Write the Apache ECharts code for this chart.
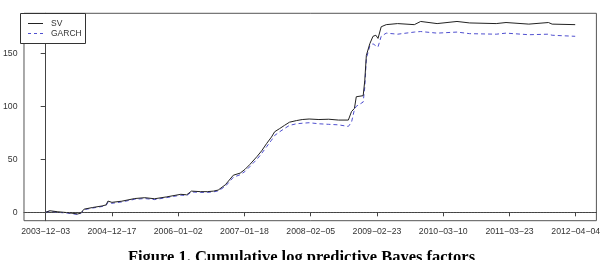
<!DOCTYPE html>
<html>
<head>
<meta charset="utf-8">
<script src="https://cdn.jsdelivr.net/npm/echarts@6/dist/echarts.min.js"></script>
<style>html,body{margin:0;padding:0;background:#fff;}#c{width:603px;height:260px;}</style>
</head>
<body>
<div id="c"></div>
<script>
// observation index (trading-day count from 2003-12-03)
var obsIndex = [0,15,46,83,120,131,145,176,213,228,235,250,287,336,374,411,455,510,532,550,584,610,633,651,678,708,734,752,770,797,815,834,852,864,883,901,920,946,968,994,1031,1068,1105,1142,1154,1165,1172,1198,1204,1210,1223,1235,1246,1254,1266,1285,1328,1391,1415,1477,1552,1600,1700,1737,1823,1897,1911,1998];
var svValues = [0,1.5,0.5,-0.3,-1.5,-1,3,4.5,6,7,10.6,9.4,10.5,13,13.8,12.8,14.5,17,16.5,20,19.5,19.5,20,21,26,35,37,40.5,45,52.5,58,65,71,76,79,82,85,86.5,87.5,88,87.5,87.8,87,87,95,98,109,110,124,148,159,166,167,164,175,177,178,177,180,178,180,178.6,178,179,177.5,179,177.5,177];
var garchValues = [0,1,0,-0.8,-2,-1.5,2.5,4,5.5,6.5,9.5,8.5,9.8,12.3,13,12,13.8,16.2,15.8,19.2,18.8,18.8,19.3,20.2,24.5,33,35.5,38.5,43,50,55.5,62,68,72.5,76,79,82,83.5,84,84.5,83.5,83,82.5,81,85,97,100,104,118,145,157,159,157,156,166,169,168,170,170.5,169,170,168.5,168,169,167.5,168,167,166];
var seriesNames = ['SV','GARCH'];
var tickIndex = [0,250,500,750,1000,1250,1500,1750,2000];
var tickLabels = ['2003\u221212\u221203','2004\u221212\u221217','2006\u221201\u221202','2007\u221201\u221218','2008\u221202\u221205','2009\u221202\u221223','2010\u221203\u221210','2011\u221203\u221223','2012\u221204\u221204'];
var yTicks = [0,50,100,150];

function pairs(xs, ys){ var out=[]; for(var i=0;i<xs.length;i++){ out.push([xs[i], ys[i]]); } return out; }

var chart = echarts.init(document.getElementById('c'), null, {renderer:'canvas'});
var axisColor = '#444';
var font = 'Liberation Sans, Arial, sans-serif';
var svColor = '#222';
var garchColor = '#5050d0';
chart.setOption({
  animation:false,
  backgroundColor:'#fff',
  grid:{left:20.5, right:1.5, top:13.3, bottom:39.3, show:true, borderColor:'#555', borderWidth:1, backgroundColor:'transparent'},
  xAxis:{
    type:'value', min:-81.8, max:2078,
    axisLine:{show:true, lineStyle:{color:axisColor, width:1}},
    axisTick:{show:true, length:4, lineStyle:{color:axisColor}, customValues:tickIndex},
    splitLine:{show:false},
    axisLabel:{customValues:tickIndex, margin:6, fontFamily:font, fontSize:8.7, color:'#333',
      formatter:function(v){ var i=tickIndex.indexOf(v); return i>=0?tickLabels[i]:''; }}
  },
  yAxis:{
    type:'value', min:-7.9, max:187.7,
    axisLine:{show:true, lineStyle:{color:axisColor, width:1}},
    axisTick:{show:true, length:5, lineStyle:{color:axisColor}, customValues:yTicks},
    splitLine:{show:false},
    axisLabel:{customValues:yTicks, margin:6.5, fontFamily:font, fontSize:8.7, color:'#333'}
  },
  series:[
    {name:seriesNames[0], type:'line', data:pairs(obsIndex, svValues), showSymbol:false, symbol:'none',
     lineStyle:{color:svColor, width:1}, itemStyle:{color:svColor}, z:3,
     markLine:{silent:true, symbol:'none', label:{show:false},
       lineStyle:{color:'#555', type:[1,2], width:1}, data:[{yAxis:0}]}},
    {name:seriesNames[1], type:'line', data:pairs(obsIndex, garchValues), showSymbol:false, symbol:'none',
     lineStyle:{color:garchColor, width:1, type:[4,3]}, itemStyle:{color:garchColor}, z:2}
  ],
  graphic:[
    {type:'rect', shape:{x:20.5, y:13.5, width:65, height:30}, style:{fill:'#fff', stroke:'#333', lineWidth:1}, z:10},
    {type:'line', shape:{x1:28, y1:23.5, x2:43, y2:23.5}, style:{stroke:svColor, lineWidth:1}, z:11},
    {type:'line', shape:{x1:28, y1:33.5, x2:44, y2:33.5}, style:{stroke:garchColor, lineWidth:1, lineDash:[3,3]}, z:11},
    {type:'text', x:51, y:23.5, style:{text:seriesNames[0], font:'8.5px "Liberation Sans", Arial, sans-serif', fill:'#333', textVerticalAlign:'middle'}, z:11},
    {type:'text', x:51, y:33.7, style:{text:seriesNames[1], font:'8.5px "Liberation Sans", Arial, sans-serif', fill:'#333', textVerticalAlign:'middle'}, z:11},
    {type:'text', left:'center', top:249,
    style:{text:'Figure 1. Cumulative log predictive Bayes factors', font:'bold 16.5px "Liberation Serif", "Times New Roman", serif', fill:'#000'}}]
});
</script>
</body>
</html>
